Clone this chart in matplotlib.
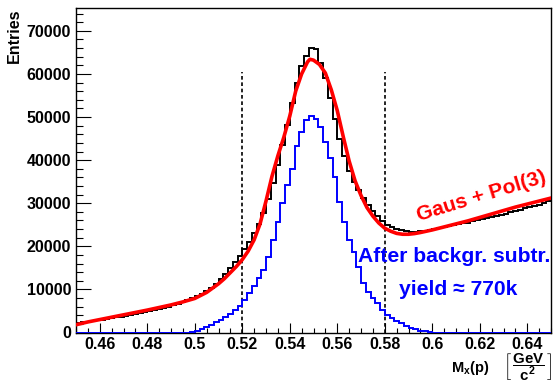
import numpy as np
import matplotlib
matplotlib.use("Agg")
import matplotlib.pyplot as plt
from matplotlib.ticker import FixedLocator, MultipleLocator

plt.rcParams['font.family'] = ['Liberation Sans', 'DejaVu Sans']
plt.rcParams['font.weight'] = 'bold'
plt.rcParams['mathtext.fontset'] = 'custom'
plt.rcParams['mathtext.rm'] = 'Liberation Sans:bold'
plt.rcParams['mathtext.it'] = 'Liberation Sans:bold'
plt.rcParams['mathtext.bf'] = 'Liberation Sans:bold'

# histogram binning: 100 bins between 0.45 and 0.65
x_lo, x_hi, n_bins = 0.45, 0.65, 100

# data histogram (black)
data_counts = [
    2200, 2400, 2550, 2700, 2850, 3000, 3200, 3350, 3550, 3700,
    3900, 4100, 4300, 4500, 4700, 4950, 5200, 5450, 5700, 6000,
    6300, 6650, 7000, 7450, 7900, 8400, 9000, 9700, 10400, 11300,
    12400, 13600, 14900, 16300, 17700, 19300, 21000, 23000, 25200, 27800,
    31000, 34800, 38900, 43500, 48100, 53200, 58000, 61800, 64100, 66100,
    65700, 62500, 59000, 54500, 49500, 45000, 41000, 37500, 35000, 33000,
    31200, 29600, 28200, 27000, 25900, 25000, 24400, 24000, 23700, 23500,
    23400, 23400, 23500, 23600, 23800, 24000, 24300, 24400, 24700, 24900,
    25100, 25400, 25500, 25800, 26100, 26300, 26500, 26800, 27100, 27300,
    27600, 27900, 28200, 28400, 28800, 29100, 29400, 29700, 30100, 30500,
]

# background-subtracted histogram (blue)
signal_counts = [
    0, 0, 0, 0, 0, 0, 0, 0, 0, 0,
    0, 0, 0, 0, 0, 0, 0, 0, 0, 0,
    0, 0, 0, 0, 100, 400, 800, 1300, 1800, 2400,
    3000, 3700, 4400, 5200, 6200, 7500, 9100, 10900, 12700, 14500,
    17600, 21500, 25700, 30000, 34200, 38000, 43300, 46600, 49300, 50300,
    49500, 47700, 44300, 40400, 36100, 30300, 25700, 21500, 18700, 15300,
    11400, 9500, 7900, 6800, 5200, 4100, 3300, 2700, 2100, 1600,
    1100, 750, 450, 250, 150, 0, 0, 0, 0, 0,
    0, 0, 0, 0, 0, 0, 0, 0, 0, 0,
    0, 0, 0, 0, 0, 0, 0, 0, 0, 0,
]

# fit curve Gaus + Pol(3)
fit_x = [0.450, 0.455, 0.460, 0.465, 0.470, 0.475, 0.480, 0.485, 0.490, 0.495,
         0.500, 0.505, 0.510, 0.5125, 0.515, 0.5175, 0.520, 0.5225, 0.525, 0.5275,
         0.530, 0.5325, 0.535, 0.5375, 0.540, 0.5425, 0.545, 0.5475, 0.5485, 0.550,
         0.5525, 0.555, 0.5575, 0.560, 0.5625, 0.565, 0.5675, 0.570, 0.5725, 0.575,
         0.5775, 0.580, 0.5825, 0.585, 0.5875, 0.590, 0.5925, 0.595, 0.600, 0.605,
         0.610, 0.615, 0.620, 0.625, 0.630, 0.635, 0.640, 0.645, 0.650]
fit_y = [1800, 2450, 3000, 3550, 4100, 4650, 5200, 5800, 6400, 7100,
         7900, 9300, 11300, 12500, 13900, 15300, 16900, 18900, 21500, 25200,
         30500, 36200, 41000, 45300, 50200, 56000, 60000, 62800, 63400, 63200,
         62200, 60200, 56300, 51500, 45500, 39800, 35200, 31800, 29000, 27000,
         25400, 24200, 23500, 23000, 22800, 22800, 22950, 23200, 23800, 24500,
         25200, 25900, 26700, 27500, 28300, 29100, 29800, 30500, 31200]

cut_x = [0.52, 0.58]
cut_top = 60400

xtick_vals = [0.46, 0.48, 0.50, 0.52, 0.54, 0.56, 0.58, 0.60, 0.62, 0.64]
xtick_labels = ['0.46', '0.48', '0.5', '0.52', '0.54', '0.56', '0.58', '0.6', '0.62', '0.64']
ytick_vals = [0, 10000, 20000, 30000, 40000, 50000, 60000, 70000]
ytick_labels = ['0', '10000', '20000', '30000', '40000', '50000', '60000', '70000']
y_max = 75300

edges = np.linspace(x_lo, x_hi, n_bins + 1)

fig = plt.figure(figsize=(5.53, 3.83), dpi=100)
ax = fig.add_axes([76 / 553, 50.5 / 383, 475 / 553, 324.5 / 383])

ax.stairs(data_counts, edges, color='black', lw=1.4, baseline=None, zorder=2)
ax.stairs(signal_counts, edges, color='#0000ff', lw=1.4, baseline=None, zorder=3)
ax.plot(fit_x, fit_y, color='#ff0000', lw=2.6, zorder=4)
ax.vlines(cut_x, 0, cut_top, colors='black', lw=1.2, linestyles=(0, (2.2, 1.6)), zorder=1)

ax.set_xlim(x_lo, x_hi)
ax.set_ylim(0, y_max)

ax.xaxis.set_major_locator(FixedLocator(xtick_vals))
ax.set_xticklabels(xtick_labels)
ax.xaxis.set_minor_locator(MultipleLocator(0.005))
ax.yaxis.set_major_locator(FixedLocator(ytick_vals))
ax.set_yticklabels(ytick_labels)
ax.yaxis.set_minor_locator(MultipleLocator(2000))

ax.tick_params(axis='both', which='both', direction='in', top=False, right=False,
               labelsize=11.5, width=0.8)
ax.tick_params(axis='x', which='major', length=7.2, pad=3.5)
ax.tick_params(axis='x', which='minor', length=3.8)
ax.tick_params(axis='y', which='major', length=10.5, pad=3.6)
ax.tick_params(axis='y', which='minor', length=4.8)
for s in ax.spines.values():
    s.set_linewidth(1.0)

ax.text(0.6205, 31700, 'Gaus + Pol(3)', color='#ff0000', fontsize=15, fontweight='bold',
        rotation=17, ha='center', va='center', rotation_mode='anchor')
ax.text(0.6092, 16360, 'After backgr. subtr.', color='#0000ff', fontsize=15.2,
        fontweight='bold', ha='center', va='baseline')
ax.text(0.6108, 8700, 'yield \u2248 770k', color='#0000ff', fontsize=15.2,
        fontweight='bold', ha='center', va='baseline')

fig.text(0.026, 0.979, 'Entries', rotation=90, ha='center', va='top', fontsize=11.5,
         fontweight='bold')
# x axis title, split so the bracketed unit sits below the tick labels
fig.text(0.885, 1 - 368 / 383, r'$\mathregular{M_{x}(p)}$',
         ha='right', va='center', fontsize=10.5)
fig.text(0.999, 1 - 367 / 383, r'$\left[\,\dfrac{GeV}{c^{2}}\,\right]$',
         ha='right', va='center', fontsize=10.8)

fig.savefig('out.png', dpi=100)
